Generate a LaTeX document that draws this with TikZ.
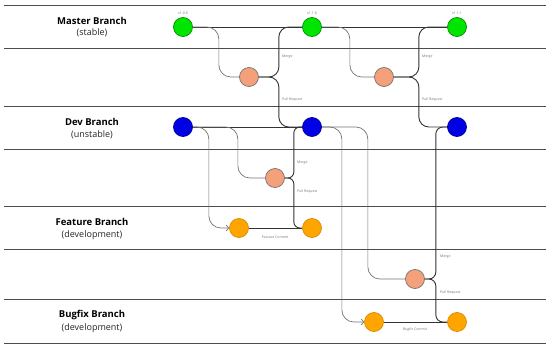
\documentclass[tikz,border=0pt]{standalone}
\usepackage{fontspec}
\setmainfont{Open Sans}
\usetikzlibrary{arrows.meta,positioning,calc,backgrounds}
\definecolor{salmon}{RGB}{244,160,122}
\definecolor{amber}{RGB}{255,165,0}

\begin{document}
\begin{tikzpicture}[x=1pt, y=-1pt, every node/.style={font=\fontsize{9}{10}\selectfont},
    lane/.style={line width=0.9pt, black!70},
    commit/.style={circle, draw, line width=0.7pt, minimum size=19pt, inner sep=0pt},
    master/.style={commit, fill=green!90!black, draw=green!55!black},
    dev/.style={commit, fill=blue!90!black, draw=blue!55!black},
    merge/.style={commit, fill=salmon, draw=black!55},
    feat/.style={commit, fill=amber, draw=amber!85!black},
    trunk/.style={line width=0.9pt, black!80, rounded corners=10pt},
    side/.style={line width=0.7pt, black!55, rounded corners=12pt},
    push/.style={side, -{Straight Barb[length=2.5pt, width=6pt]}},
    title/.style={font=\fontsize{9.5}{11}\bfseries\selectfont},
    sub/.style={font=\fontsize{9}{10}\selectfont, text=black!85},
    tag/.style={font=\fontsize{3.5}{4}\selectfont, text=black!55, inner sep=0pt},
    note/.style={font=\fontsize{3.5}{4}\selectfont, text=black!55, inner sep=0pt, anchor=west}
  ]
    \useasboundingbox (0,0) rectangle (550,348);

    % Branch titles
    \node[title] (tm) at (92,21) {Master Branch};
    \node[sub]   (sm) at (92,33) {(stable)};
    \node[title] (td) at (92,122) {Dev Branch};
    \node[sub]   (sd) at (92,135) {(unstable)};
    \node[title] (tf) at (92,222) {Feature Branch};
    \node[sub]   (sf) at (92,235) {(development)};
    \node[title] (tb) at (92,315) {Bugfix Branch};
    \node[sub]   (sb) at (92,328) {(development)};

    % Commits
    \node[master] (m1) at (183,27) {};
    \node[master] (m2) at (312,27) {};
    \node[master] (m3) at (457,27) {};
    \node[dev] (d1) at (183,127) {};
    \node[dev] (d2) at (312,127) {};
    \node[dev] (d3) at (457,127) {};
    \node[merge] (x1) at (249,77) {};
    \node[merge] (x2) at (384,77) {};
    \node[merge] (x3) at (275,178) {};
    \node[merge] (x4) at (415,279) {};
    \node[feat] (f1) at (239,228) {};
    \node[feat] (f2) at (312,228) {};
    \node[feat] (b1) at (374,322) {};
    \node[feat] (b2) at (457,322) {};

    % Versions
    \node[tag] (v1) at (183,13) {v1.0.0};
    \node[tag] (v2) at (312,13) {v1.1.0};
    \node[tag] (v3) at (457,13) {v1.1.1};

    % Merge / Pull Request labels
    \node[note] (n1) at (282,57) {Merge};
    \node[note] (n2) at (282,100) {Pull Request};
    \node[note] (n3) at (422,57) {Merge};
    \node[note] (n4) at (422,100) {Pull Request};
    \node[note] (n5) at (297,163) {Merge};
    \node[note] (n6) at (297,192) {Pull Request};
    \node[note] (n7) at (440,257) {Merge};
    \node[note] (n8) at (440,293) {Pull Request};
    \node[tag] (c1) at (275,237) {Feature Commit};
    \node[tag] (c2) at (415,330) {Bugfix Commit};

    \begin{scope}[on background layer]
      % Lanes
      \foreach \yy in {5,48,106,149,206,249,299,343} {\draw[lane] (4,\yy) -- (546,\yy);}

      % Branch lines
      \draw[trunk] (m1) -- (m2) -- (m3);
      \draw[trunk] (d1) -- (d2);
      \draw[trunk] (f1) -- (f2);
      \draw[trunk] (b1) -- (b2);

      % Master -> merge
      \draw[side] (m1.east) -- ++(26,0) |- (x1.west);
      \draw[side] (m2.east) -- ++(28,0) |- (x2.west);

      % Merge -> master, pull request -> dev
      \draw[trunk] (x1.east) -- ++(20,0) |- (m2.west);
      \draw[trunk] (x1.east) -- ++(20,0) |- (d2.west);
      \draw[trunk] (x2.east) -- ++(25,0) |- (m3.west);
      \draw[trunk] (x2.east) -- ++(25,0) |- (d3.west);

      % Dev -> feature
      \draw[push] (d1.east) -- ++(16,0) |- (f1.west);
      \draw[side] (d1.east) -- ++(45,0) |- (x3.west);
      \draw[trunk, rounded corners=6pt] (x3.east) -- ++(9,0) |- (d2.west);
      \draw[trunk, rounded corners=6pt] (x3.east) -- ++(9,0) |- (f2.west);

      % Dev -> bugfix
      \draw[push] (d2.east) -- ++(20,0) |- (b1.west);
      \draw[side] (d2.east) -- ++(46,0) |- (x4.west);
      \draw[trunk, rounded corners=7pt] (x4.east) -- ++(11,0) |- (d3.west);
      \draw[trunk, rounded corners=7pt] (x4.east) -- ++(11,0) |- (b2.west);
    \end{scope}
  \end{tikzpicture}
\end{document}
